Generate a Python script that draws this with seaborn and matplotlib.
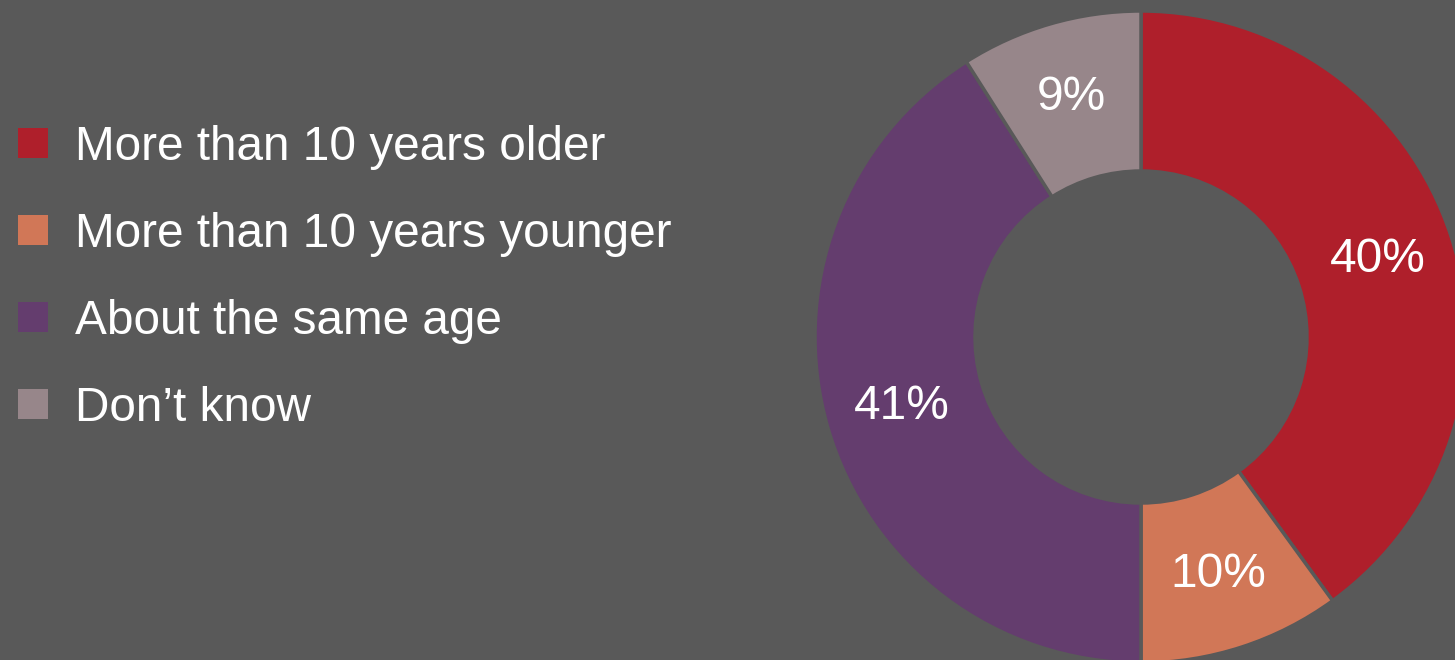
import matplotlib
matplotlib.use("Agg")
import matplotlib.pyplot as plt
import seaborn as sns
from matplotlib.lines import Line2D

sns.set_style("white")
plt.rcParams["font.family"] = ["Liberation Sans", "DejaVu Sans"]

BG = "#595959"

categories = [
    "More than 10 years older",
    "More than 10 years younger",
    "About the same age",
    "Don\u2019t know",
]
shares = [40, 10, 41, 9]
colors = ["#AF1F2B", "#D17757", "#643D6E", "#97868A"]


def main():
    fig = plt.figure(figsize=(14.55, 6.6), dpi=100, facecolor=BG)
    ax = fig.add_axes([815 / 1455, -3 / 660, 652 / 1455, 652 / 660])
    ax.set_facecolor(BG)

    wedges, _, autotexts = ax.pie(
        shares,
        colors=colors,
        startangle=90,
        counterclock=False,
        radius=1.0,
        autopct="%d%%",
        pctdistance=0.765,
        wedgeprops=dict(width=1 - 166 / 326, edgecolor=BG, linewidth=2.5),
        textprops=dict(color="white", fontsize=34.5),
    )
    for w in wedges:
        w.set_clip_on(False)
    ax.set_xlim(-1, 1)
    ax.set_ylim(-1, 1)
    ax.set_aspect("equal")
    ax.axis("off")

    handles = [
        Line2D([], [], linestyle="none", marker="s", markersize=21.6,
               markerfacecolor=c, markeredgewidth=0)
        for c in colors
    ]
    fig.legend(
        handles,
        categories,
        loc="center left",
        bbox_to_anchor=(18 / 1455, 1 - 278 / 660),
        frameon=False,
        fontsize=34.4,
        labelcolor="white",
        handlelength=0.63,
        handletextpad=0.57,
        labelspacing=0.88,
        borderpad=0,
        borderaxespad=0,
    )

    fig.savefig("out.png", dpi=100, facecolor=BG)
    plt.close(fig)


if __name__ == "__main__":
    main()
